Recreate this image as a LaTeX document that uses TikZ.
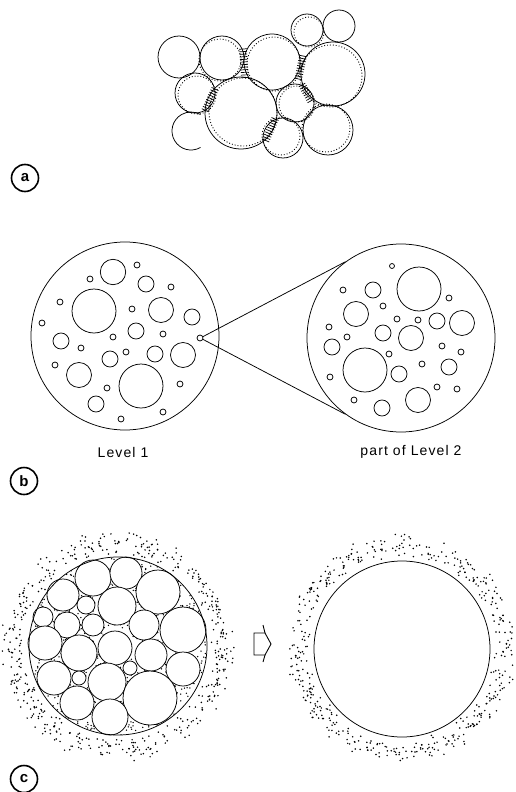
\documentclass[tikz,border=0pt]{standalone}
\usepackage{fontspec}
\newfontfamily\lblfont{Liberation Sans}[LetterSpace=8]
\newfontfamily\tagfont{Liberation Sans}
\usetikzlibrary{decorations.pathreplacing,calc}
\begin{document}
\begin{tikzpicture}[x=1pt,y=-1pt,line width=0.6pt,
  tag/.style={circle,draw,line width=1.6pt,minimum size=27pt,inner sep=0pt,font=\tagfont\bfseries\fontsize{15}{15}\selectfont},
  lvl/.style={font=\lblfont\fontsize{14}{14}\selectfont},
  bub/.style={draw,line width=0.75pt},
  hid/.style={dotted,line width=0.9pt},
  hatch/.style={decorate,decoration={ticks,segment length=2.6pt,amplitude=3.8pt},line width=0.7pt},
  big/.style={circle,draw,inner sep=0pt,line width=0.75pt},
  dot/.style={fill=black}]
\useasboundingbox (0,0) rectangle (516,792);
\clip (0,0) rectangle (516,792);

% ---------------- (a) ----------------
\foreach \x/\y/\r in {179/57/21,222/58/22,272/62/28,307/30/16,339/26/16,333/74/32,
  195/93/20,241/113/36,295/103/19,283/138/20,328/130/25}
  \draw[bub] (\x,\y) circle (\r);
\draw[bub] ([shift={(60:19)}]191,131) arc[start angle=60,end angle=300,radius=19];
% hidden (dotted) outlines
\foreach \x/\y/\r in {243/112/34,220/60/21,274/64/27,331/76/31,297/104/18,326/128/24,
  309/32/15,197/95/19,281/136/19}
  \draw[hid] (\x,\y) circle (\r);
% hatching at contacts
\draw[hatch] (243,49) -- (245,79);
\draw[hatch] (303,56) -- (298,81);
\draw[hatch] (215,89) -- (205,111);
\draw[hatch] (275,119) -- (265,142);
\draw[hatch] (302,85) -- (311,101);
\node[tag] (ta) at (25,178) {a};

% ---------------- (b) ----------------
\node[big,minimum size=188pt] (L1) at (125,336) {};
\foreach \x/\y/\r in {113/272/12.7,137/265/3,90/279/3,146/284/8,171/287/3,60/302/3,
  94/311/22,132/309/3,161/310/12.5,192/317/8,42/323/3,136/331/8,113/337/3,163/334/3,
  61/341/8,81/348/3,126/352/3,110/359/8,155/354/8,183/355/12.5,55/365/3,79/375/12.5,
  107/388/3,141/386/22,180/384/3,96/404/8,163/412/3,121/419/3}
  \draw[bub] (\x,\y) circle (\r);
\node[circle,draw,line width=0.75pt,minimum size=6pt,inner sep=0pt] (src) at (200,338) {};
\node[big,minimum size=188pt] (L2) at (401,338) {};
\foreach \x/\y/\r in {392/266/2.5,419/289/22,343/290/3,373/290/8,449/298/3,383/306/3,
  356/314/12.5,397/319/3,418/320/3,437/321/8,462/323/12.5,329/327/3,383/333/8,347/337/3,
  411/338/12.5,332/347/8,442/346/3,461/352/3,389/354/3,365/370/22,422/364/3,449/367/8,
  399/374/8,330/377/3,437/387/3,457/389/3,418/400/12.5,354/400/3,382/408/8}
  \draw[bub] (\x,\y) circle (\r);
\draw[line width=0.75pt] (src.25) -- (L2.126);
\draw[line width=0.75pt] (src.-25) -- (L2.234);
\node[lvl] (lv1) at (123,452) {Level 1};
\node[lvl] (lv2) at (411,452) {part of Level 2};
\node[tag] (tb) at (24,481) {b};

% ---------------- (c) ----------------
\pgfmathsetseed{7}
\begin{scope}
  \clip (118,646) circle (89);
  \foreach \i in {1,...,1100}{
    \pgfmathsetmacro\aa{360*rnd}
    \pgfmathsetmacro\rr{89*sqrt(rnd)}
    \fill[dot] ({118+\rr*cos(\aa)},{646+\rr*sin(\aa)}) circle (0.75);
  }
\end{scope}
\foreach \x/\y/\r in {93/578/18,126/573/16,158/592/22,63/595/16,86/605/9,117/606/19,
  43/617/10,67/625/13,93/625/11,144/625/15,183/630/23,45/643/17,79/653/18,115/648/17,
  151/655/16,183/669/17,54/678/17,79/678/7,130/668/7,107/682/19,77/703/17,150/698/27,
  110/717/18}
  \draw[bub,fill=white] (\x,\y) circle (\r);
\node[big,minimum size=178pt] (C1) at (118,646) {};
\foreach \i in {1,...,480}{
  \pgfmathsetmacro\aa{360*rnd}
  \pgfmathsetmacro\rr{91+14*rnd+13*rnd}
  \fill[dot] ({118+\rr*cos(\aa)},{646+\rr*sin(\aa)}) circle (0.85);
}
% arrow
\draw[line width=0.9pt,line join=miter] (254,633) -- (265,633) -- (271,644) -- (265,655) -- (254,655) -- cycle;
\draw[line width=0.9pt] (263,625) -- (265,633);
\draw[line width=0.9pt] (265,655) -- (263,662);
\node[big,minimum size=176pt] (C2) at (402,649) {};
\foreach \i in {1,...,480}{
  \pgfmathsetmacro\aa{360*rnd}
  \pgfmathsetmacro\rr{90+14*rnd+13*rnd}
  \fill[dot] ({402+\rr*cos(\aa)},{649+\rr*sin(\aa)}) circle (0.85);
}
\node[tag] (tc) at (24,779) {c};
\end{tikzpicture}
\end{document}
